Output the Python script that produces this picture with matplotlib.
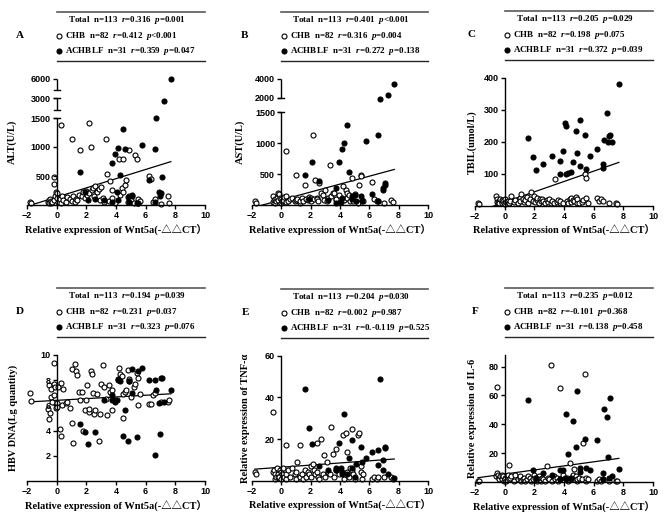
import numpy as np
import matplotlib
matplotlib.use('Agg')
import matplotlib.pyplot as plt
from matplotlib import transforms

plt.rcParams['font.family'] = ['Liberation Sans', 'DejaVu Sans']
plt.rcParams['font.weight'] = 'bold'
plt.rcParams['mathtext.fontset'] = 'custom'
plt.rcParams['mathtext.rm'] = 'Liberation Serif:bold'
plt.rcParams['mathtext.it'] = 'Liberation Serif:italic:bold'
plt.rcParams['mathtext.bf'] = 'Liberation Serif:bold'

# x = Wnt5a relative expression (-ddCT), shared by all panels
chb_x = [-1.8, -1.7, -0.6, -0.55, -0.5, -0.45, -0.4, -0.35, -0.3, -0.2,
         -0.2, -0.15, -0.1, -0.05, 0.0, 0.05, 0.1, 0.2, 0.3, 0.3,
         0.35, 0.45, 0.6, 0.7, 0.9, 1.0, 1.0, 1.1, 1.25, 1.3,
         1.4, 1.5, 1.6, 1.7, 1.8, 1.9, 2.0, 2.05, 2.15, 2.2,
         2.3, 2.4, 2.45, 2.5, 2.6, 2.7, 2.85, 2.9, 3.0, 3.1,
         3.2, 3.3, 3.4, 3.5, 3.6, 3.7, 3.75, 3.9, 4.2, 4.3,
         4.4, 4.45, 4.5, 4.6, 4.7, 4.8, 4.85, 4.9, 5.0, 5.2,
         5.3, 5.4, 5.45, 5.5, 5.6, 6.2, 6.35, 6.5, 6.6, 7.0,
         7.5, 7.6]
achblf_x = [1.6, 1.9, 2.1, 2.6, 3.2, 3.7, 3.7, 3.9, 4.05, 4.15,
            4.15, 4.25, 4.45, 4.6, 4.8, 4.85, 5.05, 5.07, 5.4, 5.5,
            5.75, 6.2, 6.6, 6.6, 6.7, 6.9, 6.95, 7.05, 7.1, 7.25,
            7.7]

alt_chb = [50, 40, 60, 90, 40, 100, 30, 70, 50, 360,
           80, 490, 150, 230, 200, 120, 60, 100, 40, 1380,
           150, 90, 60, 130, 100, 1140, 70, 160, 50, 110,
           80, 180, 950, 150, 220, 120, 250, 170, 1410, 200,
           1000, 260, 300, 150, 320, 230, 280, 90, 310, 120,
           60, 1130, 540, 70, 420, 260, 120, 40, 800, 170,
           300, 230, 790, 340, 430, 60, 950, 150, 80, 40,
           870, 800, 110, 30, 70, 500, 440, 60, 100, 20,
           160, 40]
alt_achblf = [570, 220, 80, 100, 90, 720, 60, 880, 230, 990,
              90, 510, 1310, 970, 140, 60, 160, 170, 40, 30,
              1030, 430, 60, 960, 1500, 220, 150, 200, 490, 2800,
              6000]

ast_chb = [60, 30, 50, 140, 80, 40, 100, 60, 120, 200,
           80, 170, 120, 40, 100, 60, 80, 130, 50, 870,
           140, 60, 90, 110, 60, 490, 80, 100, 40, 70,
           120, 60, 330, 100, 80, 130, 60, 110, 1130, 90,
           400, 120, 100, 70, 350, 200, 160, 80, 250, 60,
           120, 640, 140, 190, 200, 80, 100, 160, 300, 80,
           250, 200, 120, 160, 70, 430, 100, 60, 180, 40,
           330, 490, 470, 80, 60, 380, 100, 60, 70, 30,
           80, 50]
ast_achblf = [480, 100, 700, 390, 80, 280, 40, 700, 50, 910,
              120, 1000, 1290, 530, 150, 90, 160, 60, 140, 60,
              1040, 180, 1140, 60, 1950, 250, 280, 320, 350, 2300,
              3500]

tbil_chb = [8, 6, 30, 20, 12, 8, 15, 10, 22, 12,
            18, 8, 14, 10, 6, 20, 12, 15, 8, 10,
            14, 30, 12, 18, 10, 25, 15, 35, 20, 12,
            18, 28, 10, 20, 42, 15, 30, 12, 18, 25,
            10, 20, 15, 22, 14, 8, 18, 12, 20, 10,
            15, 8, 83, 12, 18, 10, 14, 8, 15, 10,
            22, 12, 25, 18, 15, 28, 10, 20, 8, 12,
            18, 100, 88, 25, 10, 25, 15, 22, 15, 10,
            8, 5]
tbil_achblf = [210, 153, 110, 130, 155, 140, 100, 170, 258, 250,
               100, 103, 105, 135, 232, 165, 268, 125, 220, 115,
               155, 178, 130, 118, 205, 290, 200, 218, 220, 200,
               380]

hbv_chb = [7.0, 6.35, 5.7, 7.6, 4.9, 5.4, 6.7, 7.3, 6.3, 9.4,
           6.85, 7.7, 7.5, 5.8, 6.2, 5.9, 7.5, 4.1, 7.8, 3.6,
           6.0, 7.3, 6.2, 6.3, 5.8, 8.9, 4.6, 3.05, 9.3, 8.7,
           8.4, 7.1, 6.4, 7.1, 4.0, 5.6, 6.4, 7.6, 5.5, 5.7,
           8.7, 8.5, 7.0, 5.3, 5.6, 6.9, 3.2, 5.3, 7.7, 9.2,
           7.5, 6.5, 5.2, 7.6, 7.1, 5.6, 7.2, 6.4, 9.0, 8.5,
           8.3, 6.9, 5.0, 7.1, 7.2, 8.8, 8.1, 7.9, 6.7, 7.5,
           7.7, 8.6, 6.05, 8.2, 6.9, 6.1, 6.1, 6.8, 7.0, 6.3,
           6.3, 6.4]
hbv_achblf = [4.5, 3.9, 2.95, 3.9, 6.4, 6.4, 6.8, 6.3, 6.4, 8.0,
              8.1, 7.9, 3.6, 5.6, 3.2, 7.9, 7.0, 8.9, 3.5, 8.75,
              9.0, 8.05, 8.0, 2.1, 7.25, 6.2, 3.7, 8.2, 8.15, 6.25,
              7.25]

tnf_chb = [4, 3, 33, 4, 5, 3, 1, 2, 6, 3,
           2, 2, 5, 1, 4, 3, 6, 2, 1, 17,
           3, 5, 2, 6, 3, 1, 4, 9, 17, 2,
           3, 1, 5, 2, 4, 3, 7, 2, 8, 5,
           3, 18, 4, 2, 1, 20, 3, 12.5, 2, 9,
           4, 3, 26, 13, 2, 15, 5, 3, 22, 1,
           23, 14, 4, 2, 6, 25, 5, 3, 1, 22,
           23, 7, 4, 1, 3, 1, 2, 1, 2, 2,
           2, 1]
tnf_achblf = [44, 25.5, 17.5, 7, 5, 6, 5, 18, 6, 4,
              3, 32, 3, 11, 19.5, 6, 2, 8, 16, 9,
              11, 14, 14.5, 7.5, 49, 5, 10, 16, 15.5, 3,
              1.5]

il6_chb = [1, 1, 4, 6, 66, 5, 3, 2, 4, 3,
           5, 2, 4, 1, 3, 2, 1, 5, 2, 12,
           3, 4, 1, 5, 2, 3, 4, 1, 2, 3,
           1, 2, 4, 3, 1, 2, 5, 3, 1, 2,
           4, 2, 1, 3, 2, 1, 11, 3, 2, 81,
           1, 4, 2, 3, 1, 65, 2, 5, 3, 1,
           13, 2, 3, 5, 9, 4, 1, 2, 3, 2,
           27, 75, 1, 3, 2, 1, 2, 1, 2, 1,
           1, 1]
il6_achblf = [57, 8, 3, 6, 5, 8, 2, 8, 3, 47,
              2, 19.5, 3, 42, 24, 63, 7, 10, 30, 10,
              8, 29, 6, 2, 50.5, 45, 17, 3, 58.5, 4,
              9]

panels = [
    dict(letter='A', ylabel='ALT(U/L)', chb=alt_chb, ach=alt_achblf, ylim=(0, 6000),
         yticks=[500, 1000, 1500, 3000, 6000],
         breaks=([-15000, 0, 1500, 2200, 3000, 5200, 6000, 60000],
                 [-870, 0, 87, 95, 107, 115, 126, 868.5]),
         segs=[(0, 1500), (2200, 3000), (5200, 6000)], caps=[1500, 2200, 3000, 5200],
         stats=['Total  n=113  $r$=0.316  $p$=0.001', 'CHB  n=82  $r$=0.412  $p$<0.001',
                'ACHBLF  n=31  $r$=0.359  $p$=0.047'],
         lab_x=-0.056, let_dx=-7, rect=(27, 79, 178, 126)),
    dict(letter='B', ylabel='AST(U/L)', chb=ast_chb, ach=ast_achblf, ylim=(0, 4000),
         yticks=[500, 1000, 1500, 2000, 4000],
         breaks=([-15000, 0, 1500, 2000, 4000, 40000],
                 [-927, 0, 92.7, 107.5, 126, 459]),
         segs=[(0, 1500), (2000, 4000)], caps=[1500, 2000],
         stats=['Total  n=113  $r$=0.401  $p$<0.001', 'CHB  n=82  $r$=0.316  $p$=0.004',
                'ACHBLF  n=31  $r$=0.272  $p$=0.138'],
         lab_x=-0.04, let_dx=-7, rect=(252, 79, 176, 126)),
    dict(letter='C', ylabel='TBIL(umol/L)', chb=tbil_chb, ach=tbil_achblf, ylim=(0, 400),
         yticks=[100, 200, 300, 400], breaks=None,
         stats=['Total  n=113  $r$=0.205  $p$=0.029', 'CHB  n=82  $r$=0.198  $p$=0.075',
                'ACHBLF  n=31  $r$=0.372  $p$=0.039'],
         lab_x=0.011, let_dx=-3, rect=(475, 77.7, 178, 128)),
    dict(letter='D', ylabel='HBV DNA(Lg quantity)', chb=hbv_chb, ach=hbv_achblf, ylim=(0, 10),
         yticks=[2, 4, 6, 8, 10], breaks=None,
         stats=['Total  n=113  $r$=0.194  $p$=0.039', 'CHB  n=82  $r$=0.231  $p$=0.037',
                'ACHBLF  n=31  $r$=0.323  $p$=0.076'],
         lab_x=-0.05, let_dx=-7, rect=(27, 355, 178, 126)),
    dict(letter='E', ylabel='Relative expression of TNF-α', chb=tnf_chb, ach=tnf_achblf, ylim=(0, 60),
         yticks=[20, 40, 60], breaks=None,
         stats=['Total  n=113  $r$=0.204  $p$=0.030', 'CHB  n=82  $r$=0.002  $p$=0.987',
                'ACHBLF  n=31  $r$=0.-0.119  $p$=0.525'],
         lab_x=-0.011, let_dx=-6, rect=(252, 355.7, 176, 125)),
    dict(letter='F', ylabel='Relative expression of IL-6', chb=il6_chb, ach=il6_achblf, ylim=(0, 88),
         yticks=[20, 40, 60, 80], breaks=None,
         stats=['Total  n=113  $r$=0.235  $p$=0.012', 'CHB  n=82  $r$=-0.101  $p$=0.368',
                'ACHBLF  n=31  $r$=0.138  $p$=0.458'],
         lab_x=0.011, let_dx=0, rect=(475, 355, 178, 127)),
]

W, H = 669, 518
fig = plt.figure(figsize=(W / 100, H / 100), dpi=100)
serif = dict(family=['Liberation Serif', 'DejaVu Serif'], weight='bold')
xlab_font = dict(family=['Liberation Serif', 'Noto Sans CJK SC'], weight='bold')


def piecewise(vals, pos):
    return (lambda v: np.interp(v, vals, pos), lambda p: np.interp(p, pos, vals))


for p in panels:
    l, t, w, h = p['rect']
    ax = fig.add_axes([l / W, 1 - (t + h) / H, w / W, h / H])
    ax.set_axisbelow(False)  # tick labels drawn over the points
    if p['breaks'] is not None:
        ax.set_yscale('function', functions=piecewise(*p['breaks']))
    ax.set_xlim(-2, 10)
    ax.set_ylim(*p['ylim'])
    ax.set_xticks(np.arange(-2, 11, 2))
    ax.set_yticks(p['yticks'])
    ax.yaxis.set_minor_locator(matplotlib.ticker.NullLocator())
    for s in ['top', 'right']:
        ax.spines[s].set_visible(False)
    ax.spines['left'].set_position(('data', 0))
    ax.spines['left'].set_linewidth(1.0)
    ax.spines['bottom'].set_linewidth(1.0)
    ax.tick_params(direction='out', length=3, width=1, labelsize=6.5, pad=1.5)

    if p['breaks'] is not None:
        ax.spines['left'].set_visible(False)
        for a, b in p['segs']:
            ax.plot([0, 0], [a, b], color='k', lw=1.0, clip_on=False, solid_capstyle='butt', zorder=2.6)
        for c in p['caps']:
            ax.plot([-0.2, 0.2], [c, c], color='k', lw=1.0, clip_on=False, zorder=2.6)

    xs = np.array(chb_x + achblf_x)
    ys = np.array(p['chb'] + p['ach'], dtype=float)
    k, b0 = np.polyfit(xs, ys, 1)
    fx = np.array([xs.min(), xs.max()])
    ax.plot(fx, k * fx + b0, color='k', lw=0.9, zorder=2.0)

    ax.scatter(chb_x, p['chb'], s=13, facecolors='white', edgecolors='black',
               linewidths=0.8, zorder=2.2, clip_on=False)
    ax.scatter(achblf_x, p['ach'], s=13, facecolors='black', edgecolors='black',
               linewidths=0.8, zorder=2.3, clip_on=False)

    ax.set_xlabel('Relative expression of Wnt5a(-△△CT）', fontsize=7.5, labelpad=3, **xlab_font)
    ax.set_ylabel(p['ylabel'], fontsize=7.5, **serif)
    ax.yaxis.set_label_coords(p['lab_x'], 0.5)

    # statistics block above the plot
    base = transforms.blended_transform_factory(ax.transData, ax.transAxes)

    def up(dy):
        return base + transforms.ScaledTranslation(0, dy / 100, fig.dpi_scale_trans)

    ax.plot([0, 10], [1, 1], transform=up(67), color='0.35', lw=1.2, clip_on=False)
    ax.plot([0, 10], [1, 1], transform=up(18), color='0.15', lw=1.0, clip_on=False)
    ax.text(0.75, 1, p['stats'][0], transform=up(58.5), va='center', ha='left', fontsize=6.5, **serif)
    ax.plot([0.18], [1], marker='o', ms=3.6, mfc='white', mec='k', mew=0.8,
            transform=up(43), clip_on=False)
    ax.text(0.56, 1, p['stats'][1], transform=up(43), va='center', ha='left', fontsize=6.5, **serif)
    ax.plot([0.18], [1], marker='o', ms=3.6, mfc='k', mec='k', mew=0.8,
            transform=up(28), clip_on=False)
    ax.text(0.56, 1, p['stats'][2], transform=up(28), va='center', ha='left', fontsize=6.5, **serif)

    let_tr = ax.transAxes + transforms.ScaledTranslation(p['let_dx'] / 100, 43 / 100, fig.dpi_scale_trans)
    ax.text(0, 1, p['letter'], transform=let_tr, ha='center', va='center', fontsize=8, **serif)

fig.savefig('out.png', dpi=100)
